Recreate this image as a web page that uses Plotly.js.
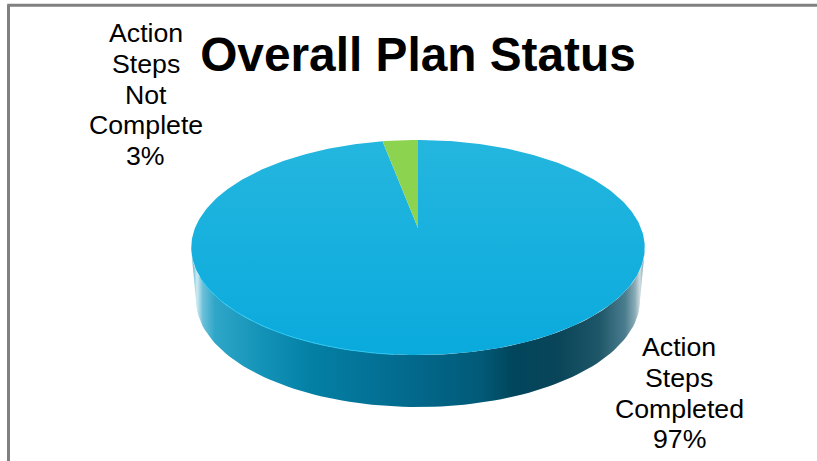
<!DOCTYPE html>
<html>
<head>
<meta charset="utf-8">
<script src="https://cdn.plot.ly/plotly-3.0.1.min.js"></script>
<style>html,body{margin:0;padding:0;background:#fff}#chart{width:817px;height:461px}</style>
</head>
<body>
<div id="chart"></div>
<script>
var categories = ["Action Steps Completed", "Action Steps Not Complete"];
var percents = [97, 3];
var sliceColors = ["#17b0de", "#8cd450"];
var chartTitle = "Overall Plan Status";
var completedLabelLines = ["Action", "Steps", "Completed", "97%"];
var notCompleteLabelLines = ["Action", "Steps", "Not", "Complete", "3%"];

// Perspective model of the disc (layout, in axis units equal to pixels)
var cx = 418, apexY = 228, halfW = 223, persp = 0.1814, depthA = -62.6;
var tcx = 418, tcy = 247.5, trx = 227, try_ = 107.5;
var bcx = 418, bcy = 300, brx = 222, bry = 107;
function project(deg) {            // deg: clockwise from the top of the disc
  var r = deg * Math.PI / 180, u = Math.cos(r), s = Math.sin(r), w = 1 + persp * u;
  return [cx + halfW * s / w, (depthA * u + apexY) / w];
}
function slice(startPct, pct) {
  var x = [cx], y = [apexY], n = Math.max(8, Math.round(pct * 4));
  for (var i = 0; i <= n; i++) {
    var p = project((startPct + pct * i / n) * 3.6);
    x.push(p[0]); y.push(p[1]);
  }
  x.push(cx); y.push(apexY);
  return {x: x, y: y};
}
// Wall: lower half of the top rim, then the lower half of the bottom rim
function wall() {
  var x = [], y = [], i, a;
  for (i = 0; i <= 90; i++) { a = Math.PI * i / 90; x.push(tcx - trx * Math.cos(a)); y.push(tcy + try_ * Math.sin(a)); }
  for (i = 90; i >= 0; i--) { a = Math.PI * i / 90; x.push(bcx - brx * Math.cos(a)); y.push(bcy + bry * Math.sin(a)); }
  x.push(x[0]); y.push(y[0]);
  return {x: x, y: y};
}
// Thin highlight on the front-left part of the rim
function rimHighlight() {
  var x = [], y = [], i, a;
  for (i = 8; i <= 42; i++) { a = Math.PI * i / 90; x.push(tcx - trx * Math.cos(a)); y.push(tcy + try_ * Math.sin(a)); }
  return {x: x, y: y};
}
var wallStops = [
  [0, "#3aaed0"], [0.013, "#d0eaf2"], [0.026, "#6cc0d8"], [0.053, "#2ea6c8"], [0.152, "#1493b8"],
  [0.262, "#0480a5"], [0.504, "#02678a"], [0.637, "#025a78"], [0.709, "#01465c"], [0.813, "#0a4559"],
  [0.9, "#1f5769"], [0.956, "#4a7d8e"], [0.978, "#8aabb6"], [0.989, "#d0dde2"], [1, "#6a95a5"]
];

// The small slice sits just left of twelve o'clock; the large one runs clockwise from there
var completedSlice = slice(0, percents[0]);
var notCompleteSlice = slice(percents[0], percents[1]);
var side = wall();
var rim = rimHighlight();

var traces = [
  {type: "scatter", mode: "lines", x: side.x, y: side.y, fill: "toself", line: {width: 0},
   fillgradient: {type: "horizontal", colorscale: wallStops}, hoverinfo: "skip", showlegend: false},
  {type: "scatter", mode: "lines", name: categories[0], x: completedSlice.x, y: completedSlice.y, fill: "toself",
   line: {width: 0},
   fillgradient: {type: "vertical", colorscale: [[0, "#0aaadd"], [1, "#24b6de"]]},
   fillcolor: sliceColors[0], hoverinfo: "name", showlegend: false},
  {type: "scatter", mode: "lines", name: categories[1], x: notCompleteSlice.x, y: notCompleteSlice.y, fill: "toself",
   line: {width: 0}, fillcolor: sliceColors[1], hoverinfo: "name", showlegend: false},
  {type: "scatter", mode: "lines", x: rim.x, y: rim.y, line: {width: 1, color: "#2cc6ef"},
   hoverinfo: "skip", showlegend: false}
];

var labelFont = {family: "Liberation Sans, Arial, sans-serif", size: 26.7, color: "#000"};
function lineAnnotations(lines, x, firstY, step) {
  return lines.map(function (t, i) {
    return {text: t, x: x, y: firstY + i * step, xref: "x", yref: "y", showarrow: false,
            xanchor: "center", yanchor: "middle", font: labelFont};
  });
}

var layout = {
  width: 817, height: 461,
  margin: {l: 0, r: 0, t: 0, b: 0},
  paper_bgcolor: "#fff", plot_bgcolor: "#fff",
  showlegend: false,
  title: {text: "<b>" + chartTitle + "</b>", x: 418 / 817, y: 1 - 54 / 461, xref: "paper", yref: "paper",
          xanchor: "center", yanchor: "middle",
          font: {family: "Liberation Sans, Arial, sans-serif", size: 47.8, color: "#000"}},
  xaxis: {range: [0, 817], visible: false, fixedrange: true},
  yaxis: {range: [461, 0], visible: false, fixedrange: true},
  annotations: lineAnnotations(notCompleteLabelLines, 145.5, 33, 30.8)
    .concat(lineAnnotations(completedLabelLines, 679, 347, 30.8)),
  shapes: [
    {type: "line", xref: "x", yref: "y", x0: 7.2, x1: 817, y0: 5.2, y1: 5.2, line: {color: "#808080", width: 3}},
    {type: "line", xref: "x", yref: "y", x0: 8.5, x1: 8.5, y0: 5.2, y1: 461, line: {color: "#808080", width: 3}}
  ]
};

Plotly.newPlot("chart", traces, layout, {displayModeBar: false, staticPlot: true});
</script>
</body>
</html>
